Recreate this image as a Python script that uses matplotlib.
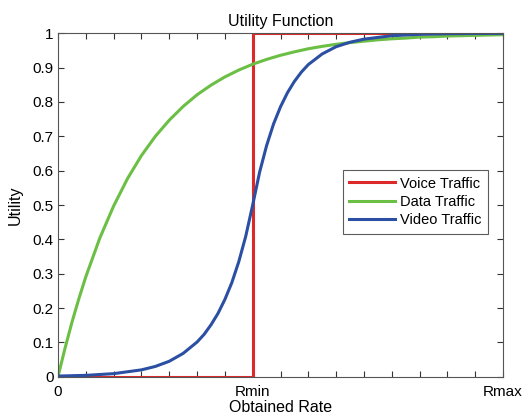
import matplotlib
matplotlib.use("Agg")
import matplotlib.pyplot as plt

plt.rcParams['font.family'] = ['Liberation Sans', 'DejaVu Sans']

# x positions run from 0 to Rmax = 16 ticks, Rmin sits at tick 7
rmin = 7
rmax = 16

# voice traffic: hard step at Rmin
voice_x = [0, 7, 7, 16]
voice_y = [0, 0, 1, 1]

# data traffic
data_x = [0, 0.25, 0.5, 0.75, 1, 1.5, 2, 2.5, 3, 3.5, 4, 4.5, 5, 5.5, 6, 6.5, 7, 7.5, 8,
          8.5, 9, 9.5, 10, 10.5, 11, 11.5, 12, 12.5, 13, 13.5, 14, 14.5, 15, 15.5, 16]
data_y = [0, 0.082, 0.158, 0.227, 0.291, 0.403, 0.497, 0.577, 0.644, 0.700, 0.747,
          0.787, 0.821, 0.849, 0.873, 0.893, 0.910, 0.924, 0.936, 0.946, 0.955,
          0.962, 0.968, 0.973, 0.977, 0.981, 0.984, 0.986, 0.989, 0.990, 0.992,
          0.993, 0.994, 0.995, 0.996]

# video traffic
video_x = [0, 1, 2, 3, 3.5, 4, 4.5, 5, 5.25, 5.5, 5.75, 6, 6.25, 6.5, 6.75, 7,
           7.25, 7.5, 7.75, 8, 8.25, 8.5, 8.75, 9, 9.5, 10, 10.5, 11, 12, 13, 14, 15, 16]
video_y = [0.002, 0.004, 0.009, 0.020, 0.030, 0.045, 0.068, 0.101, 0.123, 0.151,
           0.184, 0.225, 0.274, 0.335, 0.409, 0.500, 0.596, 0.673, 0.736, 0.786,
           0.827, 0.860, 0.887, 0.909, 0.940, 0.961, 0.974, 0.983, 0.993, 0.997,
           0.9987, 0.9994, 0.9998]

fig = plt.figure(figsize=(5.29, 4.2), dpi=100)
ax = fig.add_axes([0.1096, 0.103, 0.8413, 0.8177])

ax.plot(voice_x, voice_y, color='#dc2a2a', lw=2.2, label='Voice Traffic')
ax.plot(data_x, data_y, color='#6cbf45', lw=2.2, label='Data Traffic')
ax.plot(video_x, video_y, color='#2b4fa3', lw=2.2, label='Video Traffic')

ax.set_xlim(0, rmax)
ax.set_ylim(0, 1)
ax.set_xticks(range(rmax + 1))
ax.set_xticklabels(['Rmin' if i == rmin else 'Rmax' if i == rmax else '0' if i == 0 else ''
                    for i in range(rmax + 1)])
ax.set_yticks([i / 10 for i in range(11)])
ax.set_yticklabels(['0'] + ['0.%d' % i for i in range(1, 10)] + ['1'])
ax.tick_params(direction='in', top=True, right=True, length=4, width=0.8,
               labelsize=11, colors='#333333', labelcolor='black', pad=3)
ax.tick_params(axis='x', pad=6)
for s in ax.spines.values():
    s.set_color('#555555')
    s.set_linewidth(0.8)

ax.set_title('Utility Function', fontsize=11.5, pad=5)
ax.set_xlabel('Obtained Rate', fontsize=11.5, labelpad=1)
ax.set_ylabel('Utility', fontsize=11.5, labelpad=7)

leg = ax.legend(loc='upper left', bbox_to_anchor=(0.64, 0.602), fontsize=10.5,
                frameon=True, fancybox=False, borderpad=0.45, labelspacing=0.3,
                handlelength=3.1, handletextpad=0.35, borderaxespad=0)
leg.get_frame().set_edgecolor('#333333')
leg.get_frame().set_linewidth(0.8)

fig.savefig('out.png', dpi=100)
